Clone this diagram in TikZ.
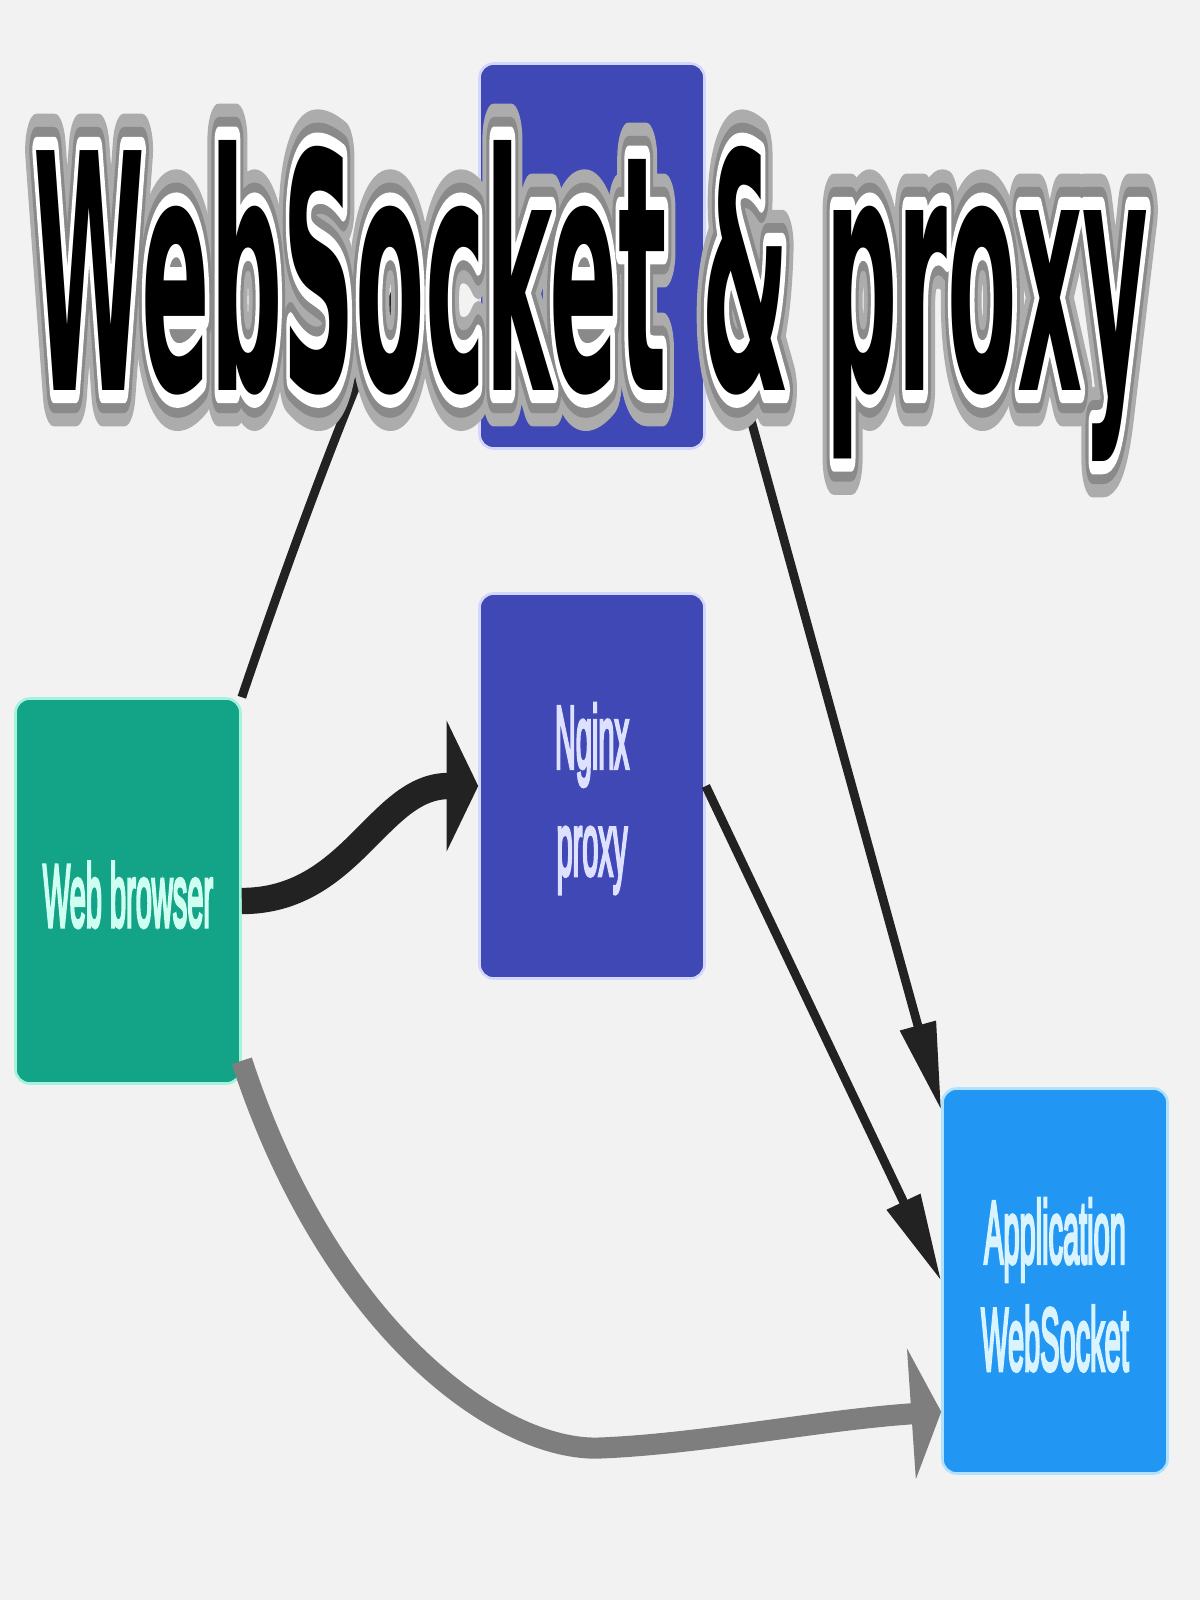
\documentclass[tikz,border=0pt]{standalone}
\usepackage{fontspec}
\setmainfont{Liberation Sans}
\newfontfamily\boxfont{Liberation Sans}[RawFeature={embolden=5}]
\newfontfamily\titlefont{DejaVu Sans}
\newfontfamily\titlewhite{DejaVu Sans}[RawFeature={embolden=8}]
\newfontfamily\titledark{DejaVu Sans}[RawFeature={embolden=14}]
\newfontfamily\titlegrey{DejaVu Sans}[RawFeature={embolden=22}]
\usepackage{graphicx}
\usetikzlibrary{arrows.meta,calc}

\definecolor{pagebg}{HTML}{F2F2F2}
\definecolor{browsergreen}{HTML}{13A386}
\definecolor{browserhalo}{HTML}{A6F2DC}
\definecolor{browsertext}{HTML}{CFFFF1}
\definecolor{proxyblue}{HTML}{3F48B5}
\definecolor{proxyhalo}{HTML}{D3D7FA}
\definecolor{proxytext}{HTML}{DDE1FF}
\definecolor{appblue}{HTML}{2196F3}
\definecolor{apphalo}{HTML}{B2E0FF}
\definecolor{apptext}{HTML}{D9F3FF}
\definecolor{linkblack}{HTML}{222222}
\definecolor{linkgrey}{HTML}{7E7E7E}
\definecolor{shadowlight}{HTML}{ACACAC}
\definecolor{shadowdark}{HTML}{8A8A8A}

\newcommand\stretched[1]{\raisebox{-8pt}[\height][\depth]{\scalebox{1}[3.05]{\begin{tabular}{@{}c@{}}#1\end{tabular}}}}
\newcommand\titletext[1]{\resizebox{22.3cm}{5.0cm}{#1\bfseries WebSocket \& proxy}}

\tikzset{
  boxnode/.style={rounded corners=8pt, minimum width=4.5cm, minimum height=7.7cm,
    inner sep=0pt, line width=1.5pt, font=\boxfont\fontsize{16.5}{20}\selectfont},
  browserbox/.style={boxnode, fill=browsergreen, draw=browserhalo, text=browsertext},
  proxybox/.style={boxnode, fill=proxyblue, draw=proxyhalo, text=proxytext},
  appbox/.style={boxnode, fill=appblue, draw=apphalo, text=apptext},
  link/.style={draw=linkblack, line width=5pt, -{Triangle[length=50pt,width=20pt]}},
  thicklink/.style={draw=linkblack, line width=15pt, -{Triangle[length=18pt,width=74pt]}},
  greylink/.style={draw=linkgrey, line width=12pt, -{Triangle[length=17pt,width=74pt]}},
  titlenode/.style={anchor=base west, inner sep=0pt},
}

\begin{document}
\begin{tikzpicture}[x=0.02cm, y=-0.02cm]
    \useasboundingbox (0,0) rectangle (1200,1600);
    \fill[pagebg] (0,0) rectangle (1200,1600);

    % Boxes
    \node[proxybox] (top) at (592,256) {};
    \node[browserbox] (browser) at (128,891) {\stretched{Web browser}};
    \node[proxybox] (nginx) at (592,786) {\stretched{Nginx\\proxy}};
    \node[appbox] (app) at (1055,1281) {\stretched{Application\\WebSocket}};

    % Connections
    \draw[link] (browser.north east) .. controls (390,260) and (430,256) .. (top.west);
    \draw[link] (top.east) -- ($(app.north west)+(0,23)$);
    \draw[link] (nginx.east) -- (app.west);
    \draw[thicklink] ($(browser.east)+(0,10)$) .. controls +(110,0) and +(-100,0) .. (nginx.west);
    \draw[greylink] ($(browser.south east)+(0,-24)$) .. controls (330,1330) and (500,1452) .. (600,1448)
        .. controls (700,1444) and (820,1420) .. ($(app.south west)+(0,-63)$);

    % Title
    \begin{scope}[line join=round]
        \coordinate (tpos) at (33,390);
        \node[titlenode, text=shadowlight] (titleshadow) at (tpos) {\titletext\titlegrey};
        \node[titlenode, text=shadowdark] (titleedge) at (tpos) {\titletext\titledark};
        \node[titlenode, text=white] (titlehalo) at (tpos) {\titletext\titlewhite};
        \node[titlenode, text=black] (title) at (tpos) {\titletext\titlefont};
    \end{scope}
\end{tikzpicture}
\end{document}
